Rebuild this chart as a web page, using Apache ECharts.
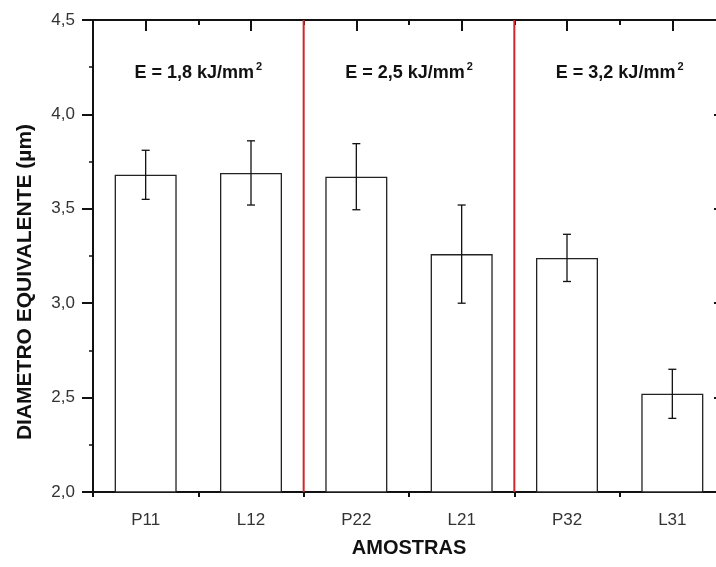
<!DOCTYPE html>
<html>
<head>
<meta charset="utf-8">
<script src="https://cdn.jsdelivr.net/npm/echarts@6.0.0/dist/echarts.min.js"></script>
<style>
  html, body { margin: 0; padding: 0; background: #fff; }
  #chart { width: 716px; height: 567px; }
</style>
</head>
<body>
<div id="chart"></div>
<script>
// data
const categories = ['P11', 'L12', 'P22', 'L21', 'P32', 'L31']
const means = [3.68, 3.69, 3.67, 3.26, 3.24, 2.52]
const errors = [0.13, 0.17, 0.175, 0.26, 0.125, 0.13]
// red dividers sit after these category indexes
const dividerAfter = [1, 3]
// energy groups: first/last category index, label
const groupFirst = [0, 2, 4]
const groupLast = [1, 3, 5]
const groupEnergy = ['1,8', '2,5', '3,2']
const groupLabelY = 4.22
const yMin = 2.0
const yMax = 4.5
const yInterval = 0.5

const myChart = echarts.init(document.getElementById('chart'))

const FONT = 'Arial, "Liberation Sans", Helvetica, sans-serif'

const hiddenCat = (pos, len, inside, align) => ({
    type: 'category',
    position: pos,
    data: categories,
    axisLine: { show: false },
    axisTick: { show: true, alignWithLabel: align, inside: inside, length: len, lineStyle: { color: '#111', width: 2 } },
    axisLabel: { show: false },
    splitLine: { show: false }
})

const option = {
    animation: false,
    // the frame runs a little past the right edge of the picture
    grid: { left: 93, top: 20, width: 632, height: 472, outerBoundsMode: 'none' },
    graphic: [
        {
            type: 'text',
            x: 25,
            y: 282,
            rotation: Math.PI / 2,
            style: {
                text: 'DIAMETRO EQUIVALENTE (µm)',
                font: 'bold 21px ' + FONT,
                fill: '#111',
                align: 'center',
                verticalAlign: 'middle'
            }
        }
    ],
    xAxis: [
        {
            type: 'category',
            position: 'bottom',
            data: categories,
            axisLine: { lineStyle: { color: '#111', width: 2 } },
            axisTick: { alignWithLabel: true, length: 9, lineStyle: { color: '#111', width: 2 } },
            axisLabel: { color: '#333', fontSize: 17, fontFamily: FONT, margin: 20 },
            name: 'AMOSTRAS',
            nameLocation: 'middle',
            nameGap: 46,
            nameTextStyle: { color: '#111', fontSize: 20, fontWeight: 'bold', fontFamily: FONT }
        },
        hiddenCat('bottom', 5, false, false),
        Object.assign(hiddenCat('top', 11, true, true), { axisLine: { show: true, lineStyle: { color: '#111', width: 2 } } }),
        hiddenCat('top', 5, true, false)
    ],
    yAxis: [
        {
            type: 'value',
            position: 'left',
            min: yMin,
            max: yMax,
            interval: yInterval,
            axisLine: { show: true, lineStyle: { color: '#111', width: 2 } },
            axisTick: { show: true, length: 11, lineStyle: { color: '#111', width: 2 } },
            minorTick: { show: true, splitNumber: 2, length: 4, lineStyle: { color: '#111', width: 1.5 } },
            splitLine: { show: false },
            axisLabel: {
                color: '#333', fontSize: 17, fontFamily: FONT, margin: 18,
                formatter: v => v.toFixed(1).replace('.', ',')
            }
        },
        {
            type: 'value',
            position: 'right',
            min: yMin,
            max: yMax,
            interval: yInterval,
            axisLine: { show: true, lineStyle: { color: '#111', width: 2 } },
            axisTick: { show: true, inside: true, length: 11, lineStyle: { color: '#111', width: 2 } },
            splitLine: { show: false },
            axisLabel: { show: false }
        }
    ],
    series: [
        {
            type: 'bar',
            data: means,
            barWidth: 62,
            itemStyle: { color: '#fff', borderColor: '#222', borderWidth: 1.3 }
        },
        {
            // error bars
            type: 'custom',
            data: means.map((m, i) => [i, m, errors[i]]),
            renderItem: (params, api) => {
                const i = api.value(0)
                const m = api.value(1)
                const e = api.value(2)
                const top = api.coord([i, m + e])
                const bot = api.coord([i, m - e])
                const cap = 4
                const st = { stroke: '#111', lineWidth: 1.3 }
                return {
                    type: 'group',
                    children: [
                        { type: 'line', shape: { x1: top[0], y1: top[1], x2: bot[0], y2: bot[1] }, style: st },
                        { type: 'line', shape: { x1: top[0] - cap, y1: top[1], x2: top[0] + cap, y2: top[1] }, style: st },
                        { type: 'line', shape: { x1: bot[0] - cap, y1: bot[1], x2: bot[0] + cap, y2: bot[1] }, style: st }
                    ]
                }
            },
            z: 5
        },
        {
            // red group dividers
            type: 'custom',
            data: dividerAfter.map(i => [i]),
            renderItem: (params, api) => {
                const i = api.value(0)
                const x = (api.coord([i, yMin])[0] + api.coord([i + 1, yMin])[0]) / 2
                const y1 = api.coord([i, yMin])[1]
                const y2 = api.coord([i, yMax])[1]
                return {
                    type: 'line',
                    shape: { x1: x, y1: y1, x2: x, y2: y2 },
                    style: { stroke: '#d3262b', lineWidth: 2 }
                }
            },
            z: 6
        },
        {
            // energy labels
            type: 'custom',
            data: groupFirst.map((f, k) => [f, groupLast[k], groupLabelY, k]),
            renderItem: (params, api) => {
                const a = api.coord([api.value(0), api.value(2)])
                const b = api.coord([api.value(1), api.value(2)])
                const k = api.value(3)
                return {
                    type: 'text',
                    x: (a[0] + b[0]) / 2,
                    y: a[1],
                    style: {
                        text: '{a|E = ' + groupEnergy[k] + ' kJ/mm}{s|2}',
                        align: 'center',
                        verticalAlign: 'middle',
                        rich: {
                            a: { fontSize: 18, fontWeight: 'bold', fontFamily: FONT, fill: '#111', color: '#111' },
                            s: { fontSize: 11, fontWeight: 'bold', fontFamily: FONT, fill: '#111', color: '#111', padding: [0, 0, 12, 2] }
                        }
                    }
                }
            },
            z: 7
        }
    ]
}

myChart.setOption(option)
</script>
</body>
</html>
